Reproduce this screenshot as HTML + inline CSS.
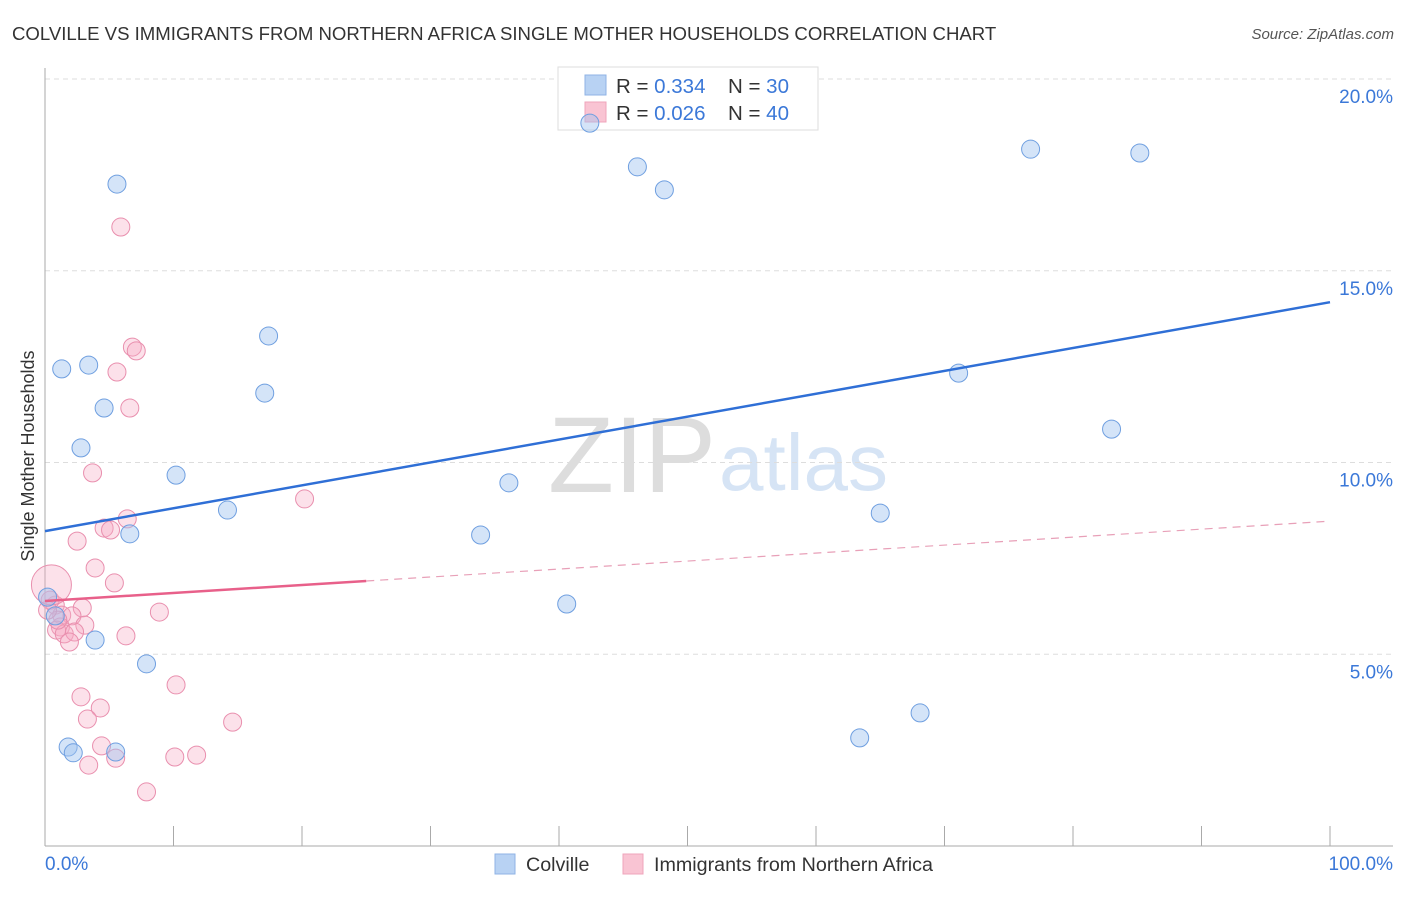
<!DOCTYPE html>
<html><head><meta charset="utf-8"><style>
body{margin:0;background:#fff;font-family:"Liberation Sans",sans-serif;}
svg text{font-family:"Liberation Sans",sans-serif;}
</style></head><body>
<svg id="chart" width="1406" height="892" xmlns="http://www.w3.org/2000/svg">
<text x="12" y="40" font-size="18.6" fill="#333">COLVILLE VS IMMIGRANTS FROM NORTHERN AFRICA SINGLE MOTHER HOUSEHOLDS CORRELATION CHART</text>
<text x="1394" y="39" font-size="15" fill="#555" font-style="italic" text-anchor="end">Source: ZipAtlas.com</text>
<text x="716" y="492" font-size="108" fill="#ddd" text-anchor="end" font-family="Liberation Serif">ZIP</text>
<text x="719" y="490" font-size="80" fill="#d6e4f5">atlas</text>
<g id="grid"></g><g id="axes"></g>
<g>
<rect x="558" y="67" width="260" height="63" fill="#fff" stroke="#ddd"/>
<rect x="585" y="75" width="21" height="20" fill="#b8d2f3" stroke="#8fb3e6"/>
<rect x="585" y="102" width="21" height="20" fill="#f9c4d3" stroke="#efa4bb"/>
<text x="616" y="93" font-size="20.5" fill="#333">R = <tspan fill="#3b78d8">0.334</tspan><tspan x="728">N = </tspan><tspan fill="#3b78d8">30</tspan></text>
<text x="616" y="120" font-size="20.5" fill="#333">R = <tspan fill="#3b78d8">0.026</tspan><tspan x="728">N = </tspan><tspan fill="#3b78d8">40</tspan></text>
</g>
<g id="marks"></g>
<text transform="translate(34,456) rotate(-90)" font-size="18" fill="#333" text-anchor="middle">Single Mother Households</text>
<text x="45" y="870" font-size="19" fill="#3b78d8">0.0%</text>
<text x="1393" y="870" font-size="19" fill="#3b78d8" text-anchor="end">100.0%</text>
<g>
<rect x="495" y="854" width="20" height="20" fill="#b8d2f3" stroke="#8fb3e6"/>
<text x="526" y="871" font-size="19.7" fill="#333">Colville</text>
<rect x="623" y="854" width="20" height="20" fill="#f9c4d3" stroke="#efa4bb"/>
<text x="654" y="871" font-size="19.7" fill="#333">Immigrants from Northern Africa</text>
</g>
</svg>
<script>
const yTicks=[5,10,15,20];
const yTickLabels=["5.0%","10.0%","15.0%","20.0%"];
const blueX=[5.6,1.3,3.4,4.6,2.8,10.2,14.2,6.6,17.4,17.1,0.2,0.8,3.9,7.9,1.8,2.2,5.5,42.4,46.1,48.2,76.7,85.2,71.1,83.0,36.1,33.9,65.0,40.6,63.4,68.1];
const blueY=[17.26,12.44,12.54,11.42,10.38,9.67,8.76,8.14,13.30,11.81,6.49,6.0,5.37,4.75,2.58,2.43,2.45,18.85,17.71,17.11,18.17,18.07,12.33,10.87,9.47,8.11,8.68,6.31,2.82,3.47];
const pinkX=[5.9,6.8,7.1,5.6,6.6,3.7,20.2,6.4,4.6,5.1,2.5,3.9,5.4,8.9,0.8,2.9,1.3,2.1,1.2,3.1,0.9,1.5,2.3,1.9,6.3,2.8,4.3,3.3,10.2,14.6,4.4,5.5,3.4,10.1,11.8,7.9,0.4,1.0,0.2,0.5];
const pinkY=[16.14,13.01,12.91,12.36,11.42,9.73,9.05,8.53,8.29,8.24,7.95,7.25,6.86,6.10,6.28,6.21,6.02,6.0,5.71,5.76,5.63,5.53,5.58,5.32,5.48,3.89,3.60,3.31,4.20,3.23,2.61,2.29,2.11,2.32,2.37,1.41,6.41,5.89,6.15,6.81];
const blueTrend=[8.21,14.18];
const pinkTrend=[6.39,8.47];
const pinkSolidEnd=25;
const NS="http://www.w3.org/2000/svg";
const X=v=>45+v*12.85, Y=v=>846-v*38.35;
function mk(tag,attrs,parent){const e=document.createElementNS(NS,tag);for(const k in attrs)e.setAttribute(k,attrs[k]);document.getElementById(parent).appendChild(e);return e;}
yTicks.forEach((t,i)=>{
  const l=mk('line',{x1:45,x2:1393,y1:Y(t),y2:Y(t),stroke:'#ddd','stroke-dasharray':'5,4'},'grid');
  
  
  const tx=mk('text',{x:1393,y:Y(t)+24,'font-size':19,fill:'#3b78d8','text-anchor':'end'},'grid');
  tx.textContent=yTickLabels[i];
  
  
});
const ax=mk('line',{x1:45,x2:45,y1:68,y2:846,stroke:'#aaa'},'axes');


const bx=mk('line',{x1:45,x2:1393,y1:846,y2:846,stroke:'#aaa'},'axes');


for(let i=0;i<=10;i++){
  const t=mk('line',{x1:X(i*10),x2:X(i*10),y1:826,y2:846,stroke:'#aaa'},'axes');
  
  
}
pinkX.forEach((x,i)=>{
  const big=i===pinkX.length-1;
  const c=mk('circle',{cx:X(x),cy:Y(pinkY[i]),r:big?20:9,fill:'rgba(245,170,195,0.35)',stroke:'#e98fae','stroke-width':1},'marks');
  
  
});
blueX.forEach((x,i)=>{
  const c=mk('circle',{cx:X(x),cy:Y(blueY[i]),r:9,fill:'rgba(160,195,240,0.45)',stroke:'#6f9fe0','stroke-width':1},'marks');
  
  
});
const bt=mk('line',{x1:X(0),y1:Y(blueTrend[0]),x2:X(100),y2:Y(blueTrend[1]),stroke:'#2f6fd6','stroke-width':2.5},'marks');


const pe=pinkTrend[0]+(pinkTrend[1]-pinkTrend[0])*pinkSolidEnd/100;
const ps=mk('line',{x1:X(0),y1:Y(pinkTrend[0]),x2:X(pinkSolidEnd),y2:Y(pe),stroke:'#e8608a','stroke-width':2.5},'marks');


const pd=mk('line',{x1:X(pinkSolidEnd),y1:Y(pe),x2:X(100),y2:Y(pinkTrend[1]),stroke:'#e8a0b8','stroke-width':1.2,'stroke-dasharray':'8,6'},'marks');


</script>
</body></html>
